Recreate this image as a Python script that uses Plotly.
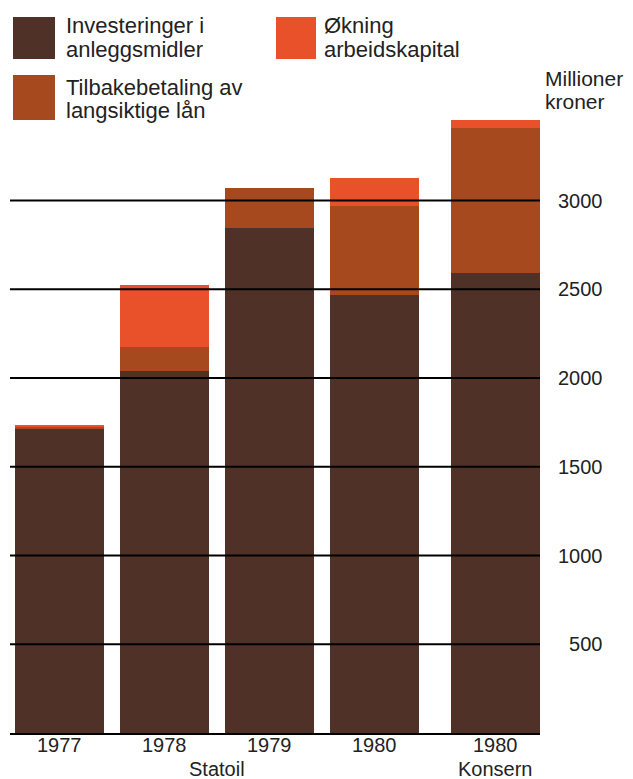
import plotly.graph_objects as go

# Data (millioner kroner)
years = ["1977", "1978", "1979", "1980", "1980"]
groups = ["", "Statoil", "", "", "Konsern"]
bar_pos = [0, 1, 2, 3, 4.15]
investeringer = [1718, 2040, 2845, 2465, 2593]
tilbakebetaling = [10, 135, 227, 503, 815]
okning = [10, 350, 0, 160, 45]

tick_vals = [500, 1000, 1500, 2000, 2500, 3000]
tick_text = ["\u2007500", "1000", "1500", "2000", "2500", "3000"]

DARK = "#4f3127"
BROWN = "#a7491f"
RED = "#e9512a"
FONT = "Liberation Sans, Arial, sans-serif"
TXT = "#222222"

# the page body adds an 8px margin, so the figure is 8px smaller
# and every target pixel below is in window coordinates
OFF = 8
W, H = 633 - OFF, 779 - OFF
L, R, T, B = 10 - OFF, 93, 94 - OFF, 46


def px(x):
    return (x - OFF - L) / (W - L - R)


def py(y):
    return (H - B - (y - OFF)) / (H - T - B)


fig = go.Figure()
for name, vals, col in [
    ("Investeringer i anleggsmidler", investeringer, DARK),
    ("Tilbakebetaling av langsiktige lån", tilbakebetaling, BROWN),
    ("Økning arbeidskapital", okning, RED),
]:
    fig.add_trace(go.Bar(x=bar_pos, y=vals, name=name, width=0.85,
                         marker=dict(color=col, line=dict(width=0)),
                         showlegend=False))

shapes = []
# grid lines drawn over the bars
for v in tick_vals:
    shapes.append(dict(type="line", xref="paper", yref="y", x0=0, x1=1,
                       y0=v, y1=v, line=dict(color="black", width=2),
                       layer="above"))

# legend swatches
legend = [
    ((13, 17, 55, 59), DARK, ["Investeringer i", "anleggsmidler"], 64, (25, 49)),
    ((276, 17, 316, 59), RED, ["Økning", "arbeidskapital"], 322, (25, 49)),
    ((13, 75, 55, 120), BROWN, ["Tilbakebetaling av", "langsiktige lån"], 64, (87, 110)),
]
annotations = []
for (x0, y0, x1, y1), col, lines, tx, tys in legend:
    shapes.append(dict(type="rect", xref="paper", yref="paper",
                       x0=px(x0), x1=px(x1), y0=py(y1), y1=py(y0),
                       fillcolor=col, line=dict(width=0)))
    for line, ty in zip(lines, tys):
        annotations.append(dict(text=line, xref="paper", yref="paper",
                                x=px(tx), y=py(ty), xanchor="left",
                                yanchor="middle", showarrow=False,
                                font=dict(size=22, color=TXT)))

for line, ty in [("Millioner", 78), ("kroner", 102)]:
    annotations.append(dict(text=line, xref="paper", yref="paper",
                            x=px(543), y=py(ty), xanchor="left",
                            yanchor="middle", showarrow=False,
                            font=dict(size=21, color=TXT)))

# x labels: year line plus group line (tight leading like the print)
for xv, yr in zip(bar_pos, years):
    annotations.append(dict(text=yr, x=xv, xref="x", yref="paper",
                            y=py(745), yanchor="middle", showarrow=False,
                            font=dict(size=20, color=TXT)))
for xv, grp in [(1.5, groups[1]), (bar_pos[4], groups[4])]:
    annotations.append(dict(text=grp, x=xv, xref="x", yref="paper",
                            y=py(769), yanchor="middle", showarrow=False,
                            font=dict(size=20, color=TXT)))

fig.update_layout(
    width=W, height=H,
    margin=dict(l=L, r=R, t=T, b=B),
    barmode="stack",
    plot_bgcolor="white",
    paper_bgcolor="white",
    font=dict(family=FONT, size=20, color=TXT),
    shapes=shapes,
    annotations=annotations,
    xaxis=dict(range=[-0.471, 4.576], tickvals=bar_pos,
               showticklabels=False,
               showgrid=False, zeroline=False, showline=True,
               linecolor="black", linewidth=2, ticks="", fixedrange=True),
    yaxis=dict(range=[0, 3600], side="right", tickvals=tick_vals,
               ticktext=tick_text, showgrid=False, zeroline=False,
               ticks="", ticklabelstandoff=17, fixedrange=True),
)

fig.write_html("out.html")
